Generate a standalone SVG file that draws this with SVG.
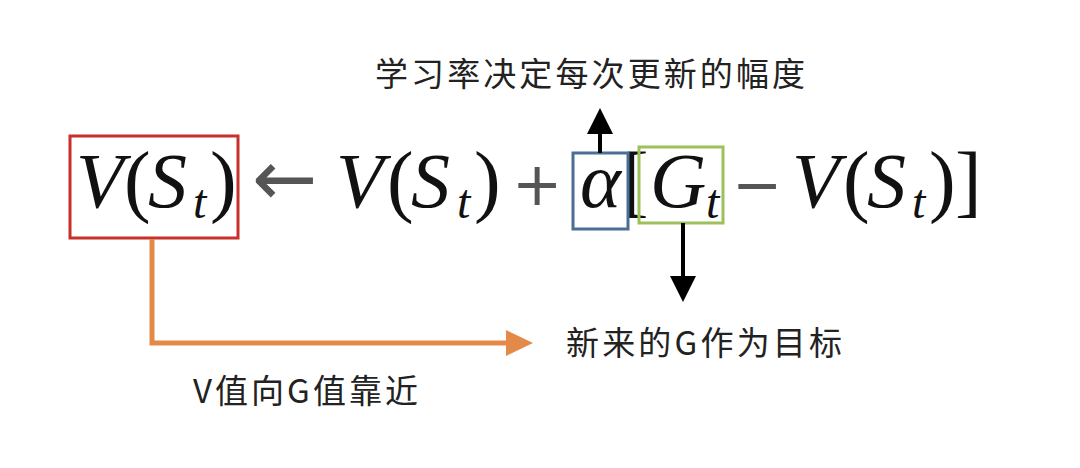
<svg xmlns="http://www.w3.org/2000/svg" width="1080" height="468" viewBox="0 0 1080 468">
<style>
.m{font-family:"Liberation Serif","DejaVu Serif",serif;font-style:italic;font-size:78px;fill:#111}
.p{font-family:"Liberation Serif","DejaVu Serif",serif;font-size:80px;fill:#111}
.s{font-family:"Liberation Serif","DejaVu Serif",serif;font-style:italic;font-size:48px;fill:#111}
.o{font-family:"DejaVu Sans",sans-serif;font-size:60px;fill:#555}
.cn{font-family:"Noto Sans CJK SC","Noto Sans",sans-serif;font-size:33px;fill:#222}
</style>
<rect width="1080" height="468" fill="#fff"/>
<g id="formula">
<text class="m" x="76" y="207">V</text>
<text class="p" x="124" y="207">(</text>
<text class="m" x="148" y="207">S</text>
<text class="s" x="193" y="218">t</text>
<text class="p" x="210" y="207">)</text>
<text class="o" x="252" y="205" style="font-size:78px">←</text>
<text class="m" x="336" y="207">V</text>
<text class="p" x="387" y="207">(</text>
<text class="m" x="411" y="207">S</text>
<text class="s" x="457" y="218">t</text>
<text class="p" x="474" y="207">)</text>
<text class="o" x="512" y="205">+</text>
<text class="m" x="580" y="207">α</text>
<text class="p" x="622" y="207">[</text>
<text class="m" x="650" y="207">G</text>
<text class="s" x="706" y="218">t</text>
<text class="o" x="732" y="205">−</text>
<text class="m" x="792" y="207">V</text>
<text class="p" x="843" y="207">(</text>
<text class="m" x="867" y="207">S</text>
<text class="s" x="912" y="218">t</text>
<text class="p" x="929" y="207">)</text>
<text class="p" x="955" y="207">]</text>
</g>
<g id="box-v">
<rect x="70" y="136" width="168" height="102" fill="none" stroke="#c8302a" stroke-width="3"/>
</g>
<g id="box-alpha">
<rect x="573" y="153" width="55" height="76" fill="none" stroke="#4a6e94" stroke-width="3"/>
</g>
<g id="box-g">
<rect x="639" y="147" width="84" height="76" fill="none" stroke="#9cc15a" stroke-width="3"/>
</g>
<g id="label-alpha">
<text class="cn" x="590" y="86" text-anchor="middle" textLength="430">学习率决定每次更新的幅度</text>
</g>
<g id="label-g">
<text class="cn" x="566" y="355" textLength="276">新来的G作为目标</text>
</g>
<g id="label-v">
<text class="cn" x="193" y="403" textLength="225">V值向G值靠近</text>
</g>
<g id="connectors">
<line x1="600" y1="153" x2="600" y2="130" stroke="#000" stroke-width="4"/>
<path d="M587,134 L600,108 L613,134 z" fill="#000"/>
<line x1="683" y1="223" x2="683" y2="280" stroke="#000" stroke-width="4"/>
<path d="M670,276 L683,302 L696,276 z" fill="#000"/>
<path d="M152,239 L152,343 L510,343" fill="none" stroke="#e38a48" stroke-width="5"/>
<path d="M506,330 L533,343 L506,356 z" fill="#e38a48"/>
</g>
</svg>
